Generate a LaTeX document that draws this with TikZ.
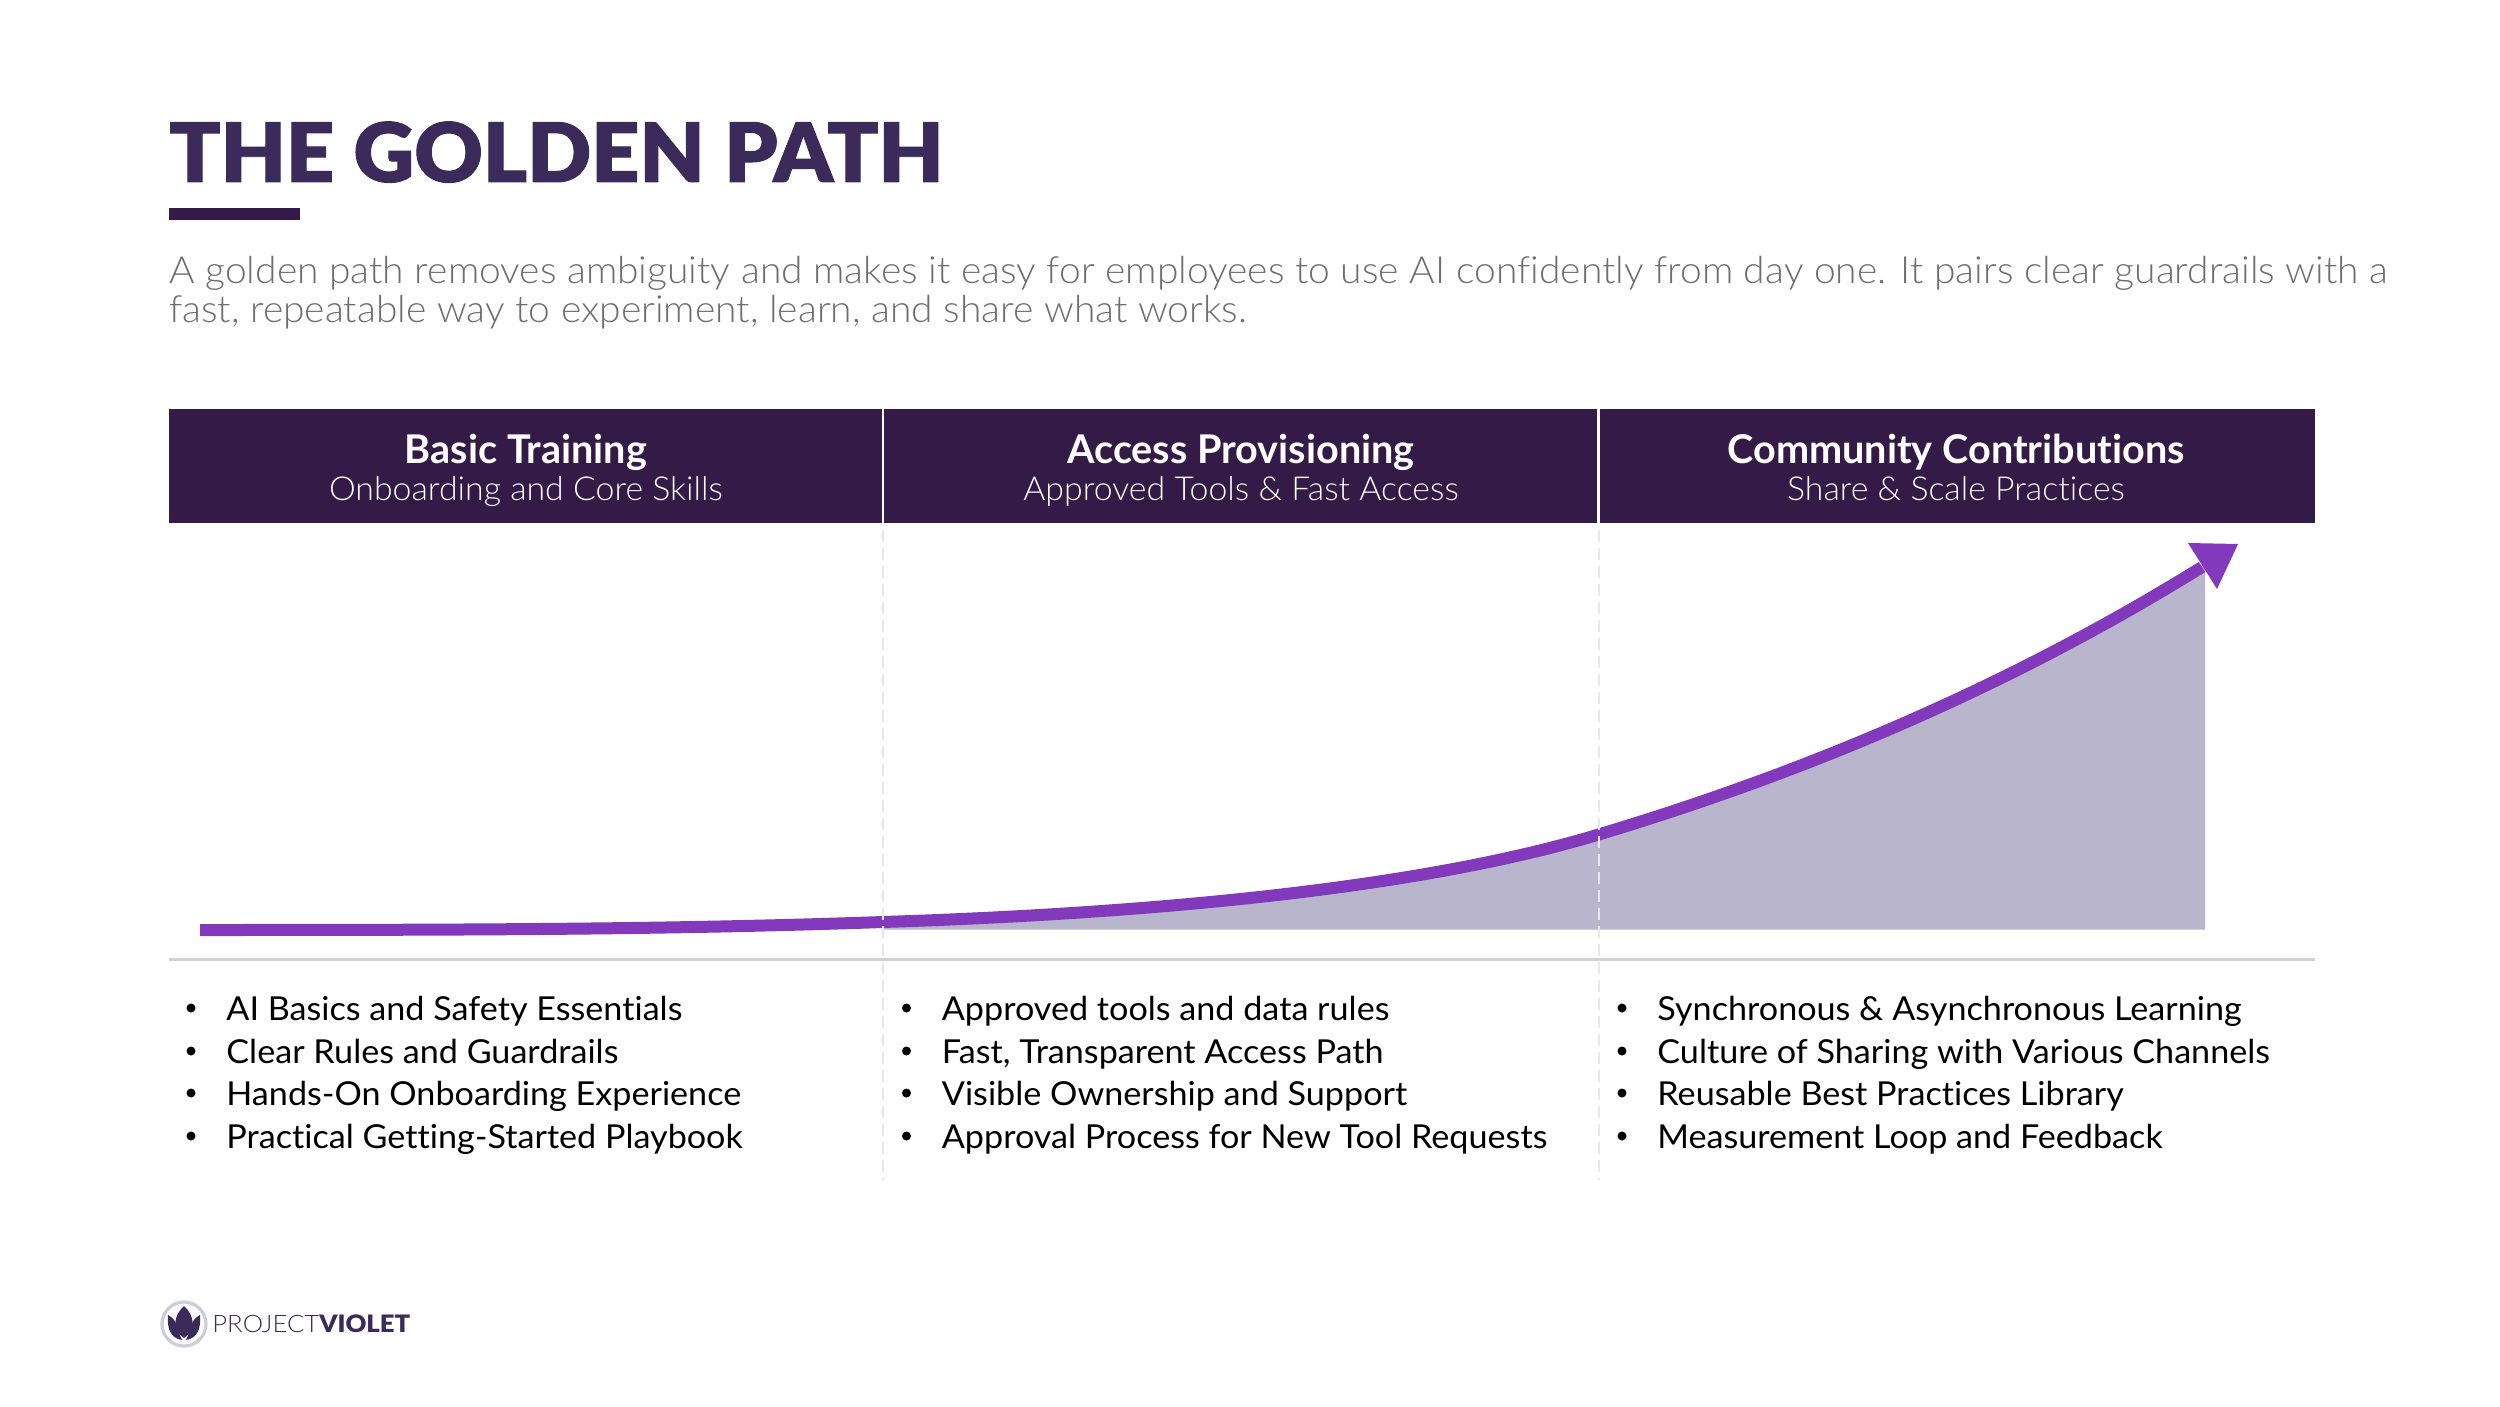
\documentclass[tikz,border=0pt]{standalone}
\usepackage{fontspec}
\setmainfont{Lato}
\newfontfamily\ttlfont[FakeStretch=1.026,FakeBold=1.2,Ligatures=NoCommon]{Lato Black}
\newfontfamily\parf[FakeStretch=1.042,Ligatures=NoCommon]{Lato Light}
\newfontfamily\subf[FakeStretch=1.025,Ligatures=NoCommon]{Lato Light}
\newfontfamily\regf[FakeStretch=1.035,Ligatures=NoCommon]{Lato}
\newfontfamily\boldf[Ligatures=NoCommon]{Lato Bold}
\newfontfamily\logoa[FakeStretch=1.07]{Lato Light}
\newfontfamily\logob[FakeStretch=1.07]{Lato Black}
\definecolor{hdr}{HTML}{331A47}
\definecolor{ttl}{HTML}{3B2A5A}
\definecolor{shaft}{HTML}{8239BC}
\definecolor{area}{HTML}{B9B5CC}
\definecolor{para}{HTML}{6E6E6E}
\tikzset{
  hdrhead/.style={anchor=base,text=white,font=\boldf\fontsize{19.8}{24}\selectfont},
  hdrsub/.style={anchor=base,text=white,font=\subf\fontsize{16.5}{20}\selectfont},
  bul/.style={anchor=base west,text=black,inner sep=0,font=\regf\fontsize{16.5}{20}\selectfont},
  partext/.style={anchor=base west,text=para,inner sep=0,font=\parf\fontsize{18.7}{22}\selectfont},
  bdot/.style={circle,fill=black,inner sep=0,minimum size=4.5pt},
  vdash/.style={draw=black!9,line width=1pt,dash pattern=on 6pt off 3pt}
}
\begin{document}
\begin{tikzpicture}[x=0.5pt,y=-0.5pt]
\useasboundingbox (0,0) rectangle (2500,1407);
\fill[white] (0,0) rectangle (2500,1407);
\node[anchor=base west,inner sep=0,text=ttl,font=\ttlfont\fontsize{41}{48}\selectfont] (title) at (169,182) {THE GOLDEN PATH};
\fill[hdr] (169,208) rectangle (300,220);
\node[partext] (p1) at (169,284) {A golden path removes ambiguity and makes it easy for employees to use AI confidently from day one. It pairs clear guardrails with a};
\node[partext] (p2) at (169,322) {fast, repeatable way to experiment, learn, and share what works.};
% header
\fill[hdr] (169,409) rectangle (2315,523);
\draw[white,line width=1.2pt] (883,409) -- (883,523);
\draw[white,line width=1.2pt] (1598.5,409) -- (1598.5,523);
\node[hdrhead] (h1) at (526,463) {Basic Training};
\node[hdrsub] (s1) at (526,500) {Onboarding and Core Skills};
\node[hdrhead] (h2) at (1241,463) {Access Provisioning};
\node[hdrsub] (s2) at (1241,500) {Approved Tools \& Fast Access};
\node[hdrhead] (h3) at (1956,463) {Community Contributions};
\node[hdrsub] (s3) at (1956,500) {Share \& Scale Practices};
% area
\fill[area] (883,922) .. controls (1100,915) and (1397,895) .. (1597,835)
  .. controls (1797,775) and (2002,691) .. (2202,567) -- (2205,565) -- (2205,929.5) -- (883,929.5) -- cycle;
% baseline
\draw[black!18,line width=1.5pt] (169,959) -- (2315,959);
% curve
\draw[shaft,line width=6pt] (200,930) .. controls (500,930) and (683,929) .. (883,922)
  .. controls (1100,915) and (1397,895) .. (1597,835)
  .. controls (1797,775) and (2002,691) .. (2202,567);
\fill[shaft] (2188,543) -- (2238,544) -- (2217,589) -- cycle;
% dividers
\draw[vdash] (883,530) -- (883,1180);
\draw[vdash] (1598.5,530) -- (1598.5,1180);
% bullets
\foreach \c/\dx/\a/\b/\e/\f in {
 a/0/{AI Basics and Safety Essentials}/{Clear Rules and Guardrails}/{Hands-On Onboarding Experience}/{Practical Getting-Started Playbook},
 b/715.5/{Approved tools and data rules}/{Fast, Transparent Access Path}/{Visible Ownership and Support}/{Approval Process for New Tool Requests},
 c/1431/{Synchronous \& Asynchronous Learning}/{Culture of Sharing with Various Channels}/{Reusable Best Practices Library}/{Measurement Loop and Feedback}}{
  \foreach \r/\y/\t in {1/1020/\a,2/1063/\b,3/1105/\e,4/1148/\f}{
    \node[bdot] (d\c\r) at (191+\dx,\y-12) {};
    \node[bul] (t\c\r) at (226+\dx,\y) {\t};
  }
}
% logo
\draw[draw=area!70!white,line width=1.6pt] (184,1324) circle (22);
\fill[ttl] (184,1338) .. controls (172,1330) and (173,1316) .. (184,1306) .. controls (195,1316) and (196,1330) .. (184,1338) -- cycle;
\fill[ttl] (182,1340) .. controls (170,1338) and (167,1328) .. (168,1315) .. controls (174,1318) and (176,1322) .. (177,1328) -- cycle;
\fill[ttl] (186,1340) .. controls (198,1338) and (201,1328) .. (200,1315) .. controls (194,1318) and (192,1322) .. (191,1328) -- cycle;
\node[anchor=base west,inner sep=0,text=ttl,font=\fontsize{12}{14}\selectfont] (logo) at (212,1332) {{\logoa PROJECT}{\logob VIOLET}};
\end{tikzpicture}
\end{document}
